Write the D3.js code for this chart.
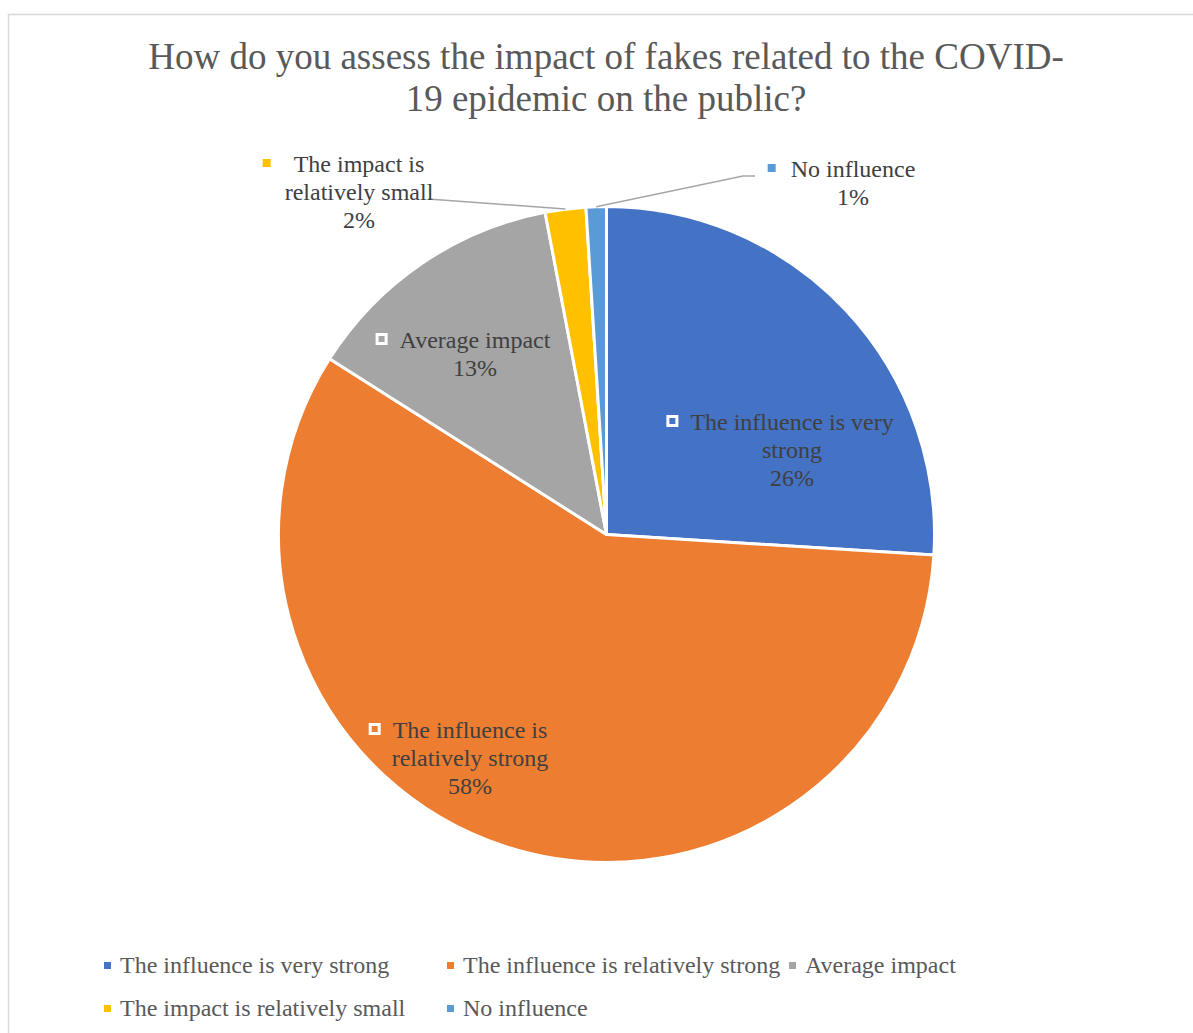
<!DOCTYPE html>
<html>
<head>
<meta charset="utf-8">
<script src="https://cdn.jsdelivr.net/npm/d3@7/dist/d3.min.js"></script>
<style>
  html, body { margin: 0; padding: 0; background: #fff; }
  svg { display: block; }
  text { font-family: "Liberation Serif", "Times New Roman", serif; }
</style>
</head>
<body>
<svg id="chart" width="1193" height="1033"></svg>
<script>
// Survey answers and their shares (percent)
const categories = [
  "The influence is very strong",
  "The influence is relatively strong",
  "Average impact",
  "The impact is relatively small",
  "No influence"
];
const shares = [26, 58, 13, 2, 1];
const colors = ["#4472C4", "#ED7D31", "#A5A5A5", "#FFC000", "#5B9BD5"];
const titleLines = [
  "How do you assess the impact of fakes related to the COVID-",
  "19 epidemic on the public?"
];
// Data-label text, wrapped as rendered in the chart
const labelLines = [
  ["The influence is very", "strong"],
  ["The influence is", "relatively strong"],
  ["Average impact"],
  ["The impact is", "relatively small"],
  ["No influence"]
];

const svg = d3.select("#chart");
const W = 1193, H = 1033;

// chart frame (top and left edges visible)
svg.append("rect")
  .attr("x", 8.5).attr("y", 14.5)
  .attr("width", W + 10).attr("height", H + 10)
  .attr("fill", "#fff")
  .attr("stroke", "#D9D9D9").attr("stroke-width", 1.5);

// title
svg.append("g").selectAll("text")
  .data(titleLines)
  .join("text")
  .attr("x", 606)
  .attr("y", (d, i) => 69 + i * 42)
  .attr("text-anchor", "middle")
  .attr("font-size", 37)
  .attr("fill", "#595959")
  .text(d => d);

// pie
const cx = 606.5, cy = 534.5, R = 328;
const data = categories.map((c, i) => ({ name: c, value: shares[i], color: colors[i], idx: i }));
const pie = d3.pie().value(d => d.value).sort(null);
const arcs = pie(data);
const arc = d3.arc().innerRadius(0).outerRadius(R);
const edge = d3.arc().innerRadius(R).outerRadius(R);

const g = svg.append("g").attr("transform", `translate(${cx},${cy})`);
g.selectAll("path")
  .data(arcs)
  .join("path")
  .attr("d", arc)
  .attr("fill", d => d.data.color)
  .attr("stroke", "#fff")
  .attr("stroke-width", 3)
  .attr("stroke-linejoin", "round");

// data label placement: centre of the first text line, and whether the label sits outside
const labelLayout = [
  { x: 792, y: 430, inside: true },
  { x: 470, y: 738, inside: true },
  { x: 475, y: 348, inside: true },
  { x: 359, y: 172, inside: false },
  { x: 853, y: 177, inside: false }
];
const lineH = 28;
const labelFont = 24;

// leader lines for the labels outside the pie
const leaderAnchors = {
  3: [[428, 199]],
  4: [[755, 176], [743, 176]]
};
arcs.forEach((a, i) => {
  if (!leaderAnchors[i]) return;
  const [ex, ey] = edge.centroid(a);
  const pts = leaderAnchors[i].concat([[cx + ex, cy + ey]]);
  svg.append("path")
    .attr("d", d3.line()(pts))
    .attr("fill", "none")
    .attr("stroke", "#A6A6A6")
    .attr("stroke-width", 1.5);
});

const labels = svg.append("g");
arcs.forEach((a, i) => {
  const L = labelLayout[i];
  const lines = labelLines[i].concat([d3.format(".0%")(a.data.value / 100)]);
  const t = labels.append("text")
    .attr("text-anchor", "middle")
    .attr("font-size", labelFont)
    .attr("fill", "#404040");
  lines.forEach((ln, k) => {
    t.append("tspan").attr("x", L.x).attr("y", L.y + k * lineH).text(ln);
  });
  // legend key next to the first line
  const firstW = t.select("tspan").node().getComputedTextLength();
  const kx = L.x - firstW / 2;
  if (L.inside) {
    labels.append("rect")
      .attr("x", kx - 22.5).attr("y", L.y - 13.5)
      .attr("width", 9).attr("height", 9)
      .attr("fill", a.data.color)
      .attr("stroke", "#fff").attr("stroke-width", 3);
  } else {
    labels.append("rect")
      .attr("x", kx - (i === 4 ? 23 : 31)).attr("y", L.y - 13)
      .attr("width", 8).attr("height", 8)
      .attr("fill", a.data.color);
  }
});

// legend
const legendPos = [
  { x: 104, y: 973 }, { x: 447, y: 973 }, { x: 789, y: 973 },
  { x: 104, y: 1016 }, { x: 447, y: 1016 }
];
const legend = svg.append("g").selectAll("g")
  .data(data)
  .join("g")
  .attr("transform", (d, i) => `translate(${legendPos[i].x},${legendPos[i].y})`);
legend.append("rect")
  .attr("x", 0).attr("y", -11)
  .attr("width", 7).attr("height", 7)
  .attr("fill", d => d.color);
legend.append("text")
  .attr("x", 16).attr("y", 0)
  .attr("font-size", labelFont)
  .attr("fill", "#595959")
  .text(d => d.name);
</script>
</body>
</html>
